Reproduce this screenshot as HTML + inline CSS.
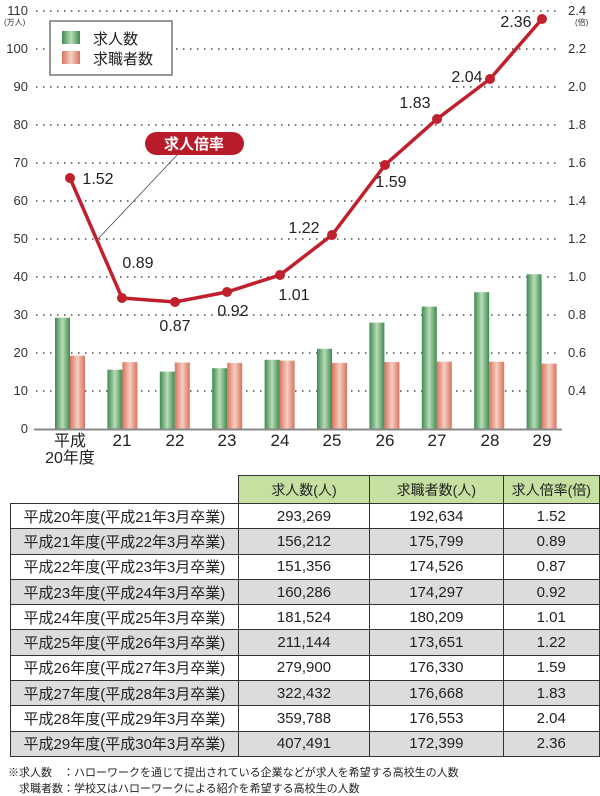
<!DOCTYPE html>
<html><head><meta charset="utf-8"><style>
body{margin:0;background:#fff;width:600px;height:795px;position:relative;overflow:hidden;font-family:"Liberation Sans","Noto Sans CJK JP",sans-serif;}
table{position:absolute;left:10px;top:475px;border-collapse:collapse;font-size:15px;color:#222;}
td{border:1px solid #333;height:24.3px;padding:0;text-align:center;}
tr.g td{background:#dcdcdc;}
th{background:#c5e0a0;border:1px solid #333;font-weight:normal;height:25px;font-size:14px;}
.note{position:absolute;left:8px;font-size:11px;color:#222;}
</style></head><body>
<svg width="600" height="470" style="position:absolute;left:0;top:0" font-family="Liberation Sans, Noto Sans CJK JP, sans-serif">
<defs>
<linearGradient id="gg" x1="0" x2="1"><stop offset="0" stop-color="#3f8a4e"/><stop offset="0.5" stop-color="#b8dcb8"/><stop offset="1" stop-color="#3f8a4e"/></linearGradient>
<linearGradient id="rg" x1="0" x2="1"><stop offset="0" stop-color="#d9735f"/><stop offset="0.5" stop-color="#f6cfc2"/><stop offset="1" stop-color="#d9735f"/></linearGradient>
</defs>
<g stroke="#777" stroke-width="2" stroke-dasharray="1.5,5.5">
<line x1="36" x2="560" y1="11" y2="11"/><line x1="36" x2="560" y1="49" y2="49"/><line x1="36" x2="560" y1="87" y2="87"/><line x1="36" x2="560" y1="125" y2="125"/><line x1="36" x2="560" y1="163" y2="163"/><line x1="36" x2="560" y1="201" y2="201"/><line x1="36" x2="560" y1="239" y2="239"/><line x1="36" x2="560" y1="277" y2="277"/><line x1="36" x2="560" y1="315" y2="315"/><line x1="36" x2="560" y1="353" y2="353"/><line x1="36" x2="560" y1="391" y2="391"/>
</g>
<g font-size="13" fill="#333" text-anchor="end">
<text x="28" y="15">110</text><text x="28" y="53">100</text><text x="28" y="91">90</text><text x="28" y="129">80</text><text x="28" y="167">70</text><text x="28" y="205">60</text><text x="28" y="243">50</text><text x="28" y="281">40</text><text x="28" y="319">30</text><text x="28" y="357">20</text><text x="28" y="395">10</text><text x="28" y="433">0</text>
</g>
<text x="4" y="25" font-size="8" fill="#333">(万人)</text>
<g font-size="13" fill="#333" text-anchor="start">
<text x="568" y="15">2.4</text><text x="568" y="53">2.2</text><text x="568" y="91">2.0</text><text x="568" y="129">1.8</text><text x="568" y="167">1.6</text><text x="568" y="205">1.4</text><text x="568" y="243">1.2</text><text x="568" y="281">1.0</text><text x="568" y="319">0.8</text><text x="568" y="357">0.6</text><text x="568" y="395">0.4</text>
</g>
<text x="575" y="25" font-size="8" fill="#333">(倍)</text>
<g id="bars">
<rect x="55" y="317.7" width="15" height="111.3" fill="url(#gg)"/><rect x="70" y="355.7" width="15" height="73.3" fill="url(#rg)"/>
<rect x="107.4" y="369.7" width="15" height="59.3" fill="url(#gg)"/><rect x="122.4" y="362.1" width="15" height="66.9" fill="url(#rg)"/>
<rect x="159.8" y="371.6" width="15" height="57.4" fill="url(#gg)"/><rect x="174.8" y="362.5" width="15" height="66.5" fill="url(#rg)"/>
<rect x="212.2" y="368.2" width="15" height="60.8" fill="url(#gg)"/><rect x="227.2" y="362.9" width="15" height="66.1" fill="url(#rg)"/>
<rect x="264.6" y="359.8" width="15" height="69.2" fill="url(#gg)"/><rect x="279.6" y="360.6" width="15" height="68.4" fill="url(#rg)"/>
<rect x="317" y="348.8" width="15" height="80.2" fill="url(#gg)"/><rect x="332" y="362.9" width="15" height="66.1" fill="url(#rg)"/>
<rect x="369.4" y="322.6" width="15" height="106.4" fill="url(#gg)"/><rect x="384.4" y="362.1" width="15" height="66.9" fill="url(#rg)"/>
<rect x="421.8" y="306.6" width="15" height="122.4" fill="url(#gg)"/><rect x="436.8" y="361.7" width="15" height="67.3" fill="url(#rg)"/>
<rect x="474.2" y="292.2" width="15" height="136.8" fill="url(#gg)"/><rect x="489.2" y="361.7" width="15" height="67.3" fill="url(#rg)"/>
<rect x="526.6" y="274.3" width="15" height="154.7" fill="url(#gg)"/><rect x="541.6" y="363.6" width="15" height="65.4" fill="url(#rg)"/>
</g>
<line x1="34" x2="562" y1="429.5" y2="429.5" stroke="#888" stroke-width="2"/>
<g font-size="17" fill="#222" text-anchor="middle">
<text x="70" y="446" font-size="16">平成</text><text x="70" y="463" font-size="16">20年度</text>
<text x="122" y="446">21</text><text x="175" y="446">22</text><text x="227" y="446">23</text><text x="280" y="446">24</text><text x="332" y="446">25</text><text x="385" y="446">26</text><text x="437" y="446">27</text><text x="490" y="446">28</text><text x="542" y="446">29</text>
</g>
<rect x="50" y="21" width="122" height="54" fill="#fff" stroke="#777" stroke-width="1.5"/>
<rect x="62" y="31" width="18" height="13" fill="url(#gg)"/><rect x="62" y="51" width="18" height="13" fill="url(#rg)"/>
<text x="93" y="44" font-size="15" fill="#222">求人数</text><text x="93" y="64" font-size="15" fill="#222">求職者数</text>
<line x1="178" y1="154" x2="97" y2="240" stroke="#444" stroke-width="0.8"/>
<rect x="145" y="132" width="99" height="23" rx="11.5" fill="#b81c2a"/>
<text x="194" y="149" font-size="15" font-weight="bold" fill="#fff" text-anchor="middle">求人倍率</text>
<polyline fill="none" stroke="#c0202c" stroke-width="3.5" points="70,178 122,298 175,302 227,292 280,275 332,235 385,165 437,119 490,79 542,19"/>
<g fill="#c0202c">
<circle cx="70" cy="178" r="5"/><circle cx="122" cy="298" r="5"/><circle cx="175" cy="302" r="5"/><circle cx="227" cy="292" r="5"/><circle cx="280" cy="275" r="5"/><circle cx="332" cy="235" r="5"/><circle cx="385" cy="165" r="5"/><circle cx="437" cy="119" r="5"/><circle cx="490" cy="79" r="5"/><circle cx="542" cy="19" r="5"/>
</g>
<g font-size="16" fill="#222" text-anchor="middle">
<text x="98" y="184">1.52</text><text x="138" y="268">0.89</text><text x="175" y="331">0.87</text><text x="233" y="316">0.92</text><text x="294" y="300">1.01</text><text x="304" y="233">1.22</text><text x="391" y="187">1.59</text><text x="415" y="108">1.83</text><text x="467" y="82">2.04</text><text x="516" y="27">2.36</text>
</g>
</svg>
<table>
<tr><td style="border:none;border-bottom:1px solid #333;width:229px"></td><th style="width:129px">求人数(人)</th><th style="width:131px">求職者数(人)</th><th style="width:94px">求人倍率(倍)</th></tr>
<tr><td>平成20年度(平成21年3月卒業)</td><td>293,269</td><td>192,634</td><td>1.52</td></tr>
<tr class="g"><td>平成21年度(平成22年3月卒業)</td><td>156,212</td><td>175,799</td><td>0.89</td></tr>
<tr><td>平成22年度(平成23年3月卒業)</td><td>151,356</td><td>174,526</td><td>0.87</td></tr>
<tr class="g"><td>平成23年度(平成24年3月卒業)</td><td>160,286</td><td>174,297</td><td>0.92</td></tr>
<tr><td>平成24年度(平成25年3月卒業)</td><td>181,524</td><td>180,209</td><td>1.01</td></tr>
<tr class="g"><td>平成25年度(平成26年3月卒業)</td><td>211,144</td><td>173,651</td><td>1.22</td></tr>
<tr><td>平成26年度(平成27年3月卒業)</td><td>279,900</td><td>176,330</td><td>1.59</td></tr>
<tr class="g"><td>平成27年度(平成28年3月卒業)</td><td>322,432</td><td>176,668</td><td>1.83</td></tr>
<tr><td>平成28年度(平成29年3月卒業)</td><td>359,788</td><td>176,553</td><td>2.04</td></tr>
<tr class="g"><td>平成29年度(平成30年3月卒業)</td><td>407,491</td><td>172,399</td><td>2.36</td></tr>
</table>
<div class="note" style="top:764px">※求人数　：ハローワークを通じて提出されている企業などが求人を希望する高校生の人数</div>
<div class="note" style="top:780px">　求職者数：学校又はハローワークによる紹介を希望する高校生の人数</div>
</body></html>
